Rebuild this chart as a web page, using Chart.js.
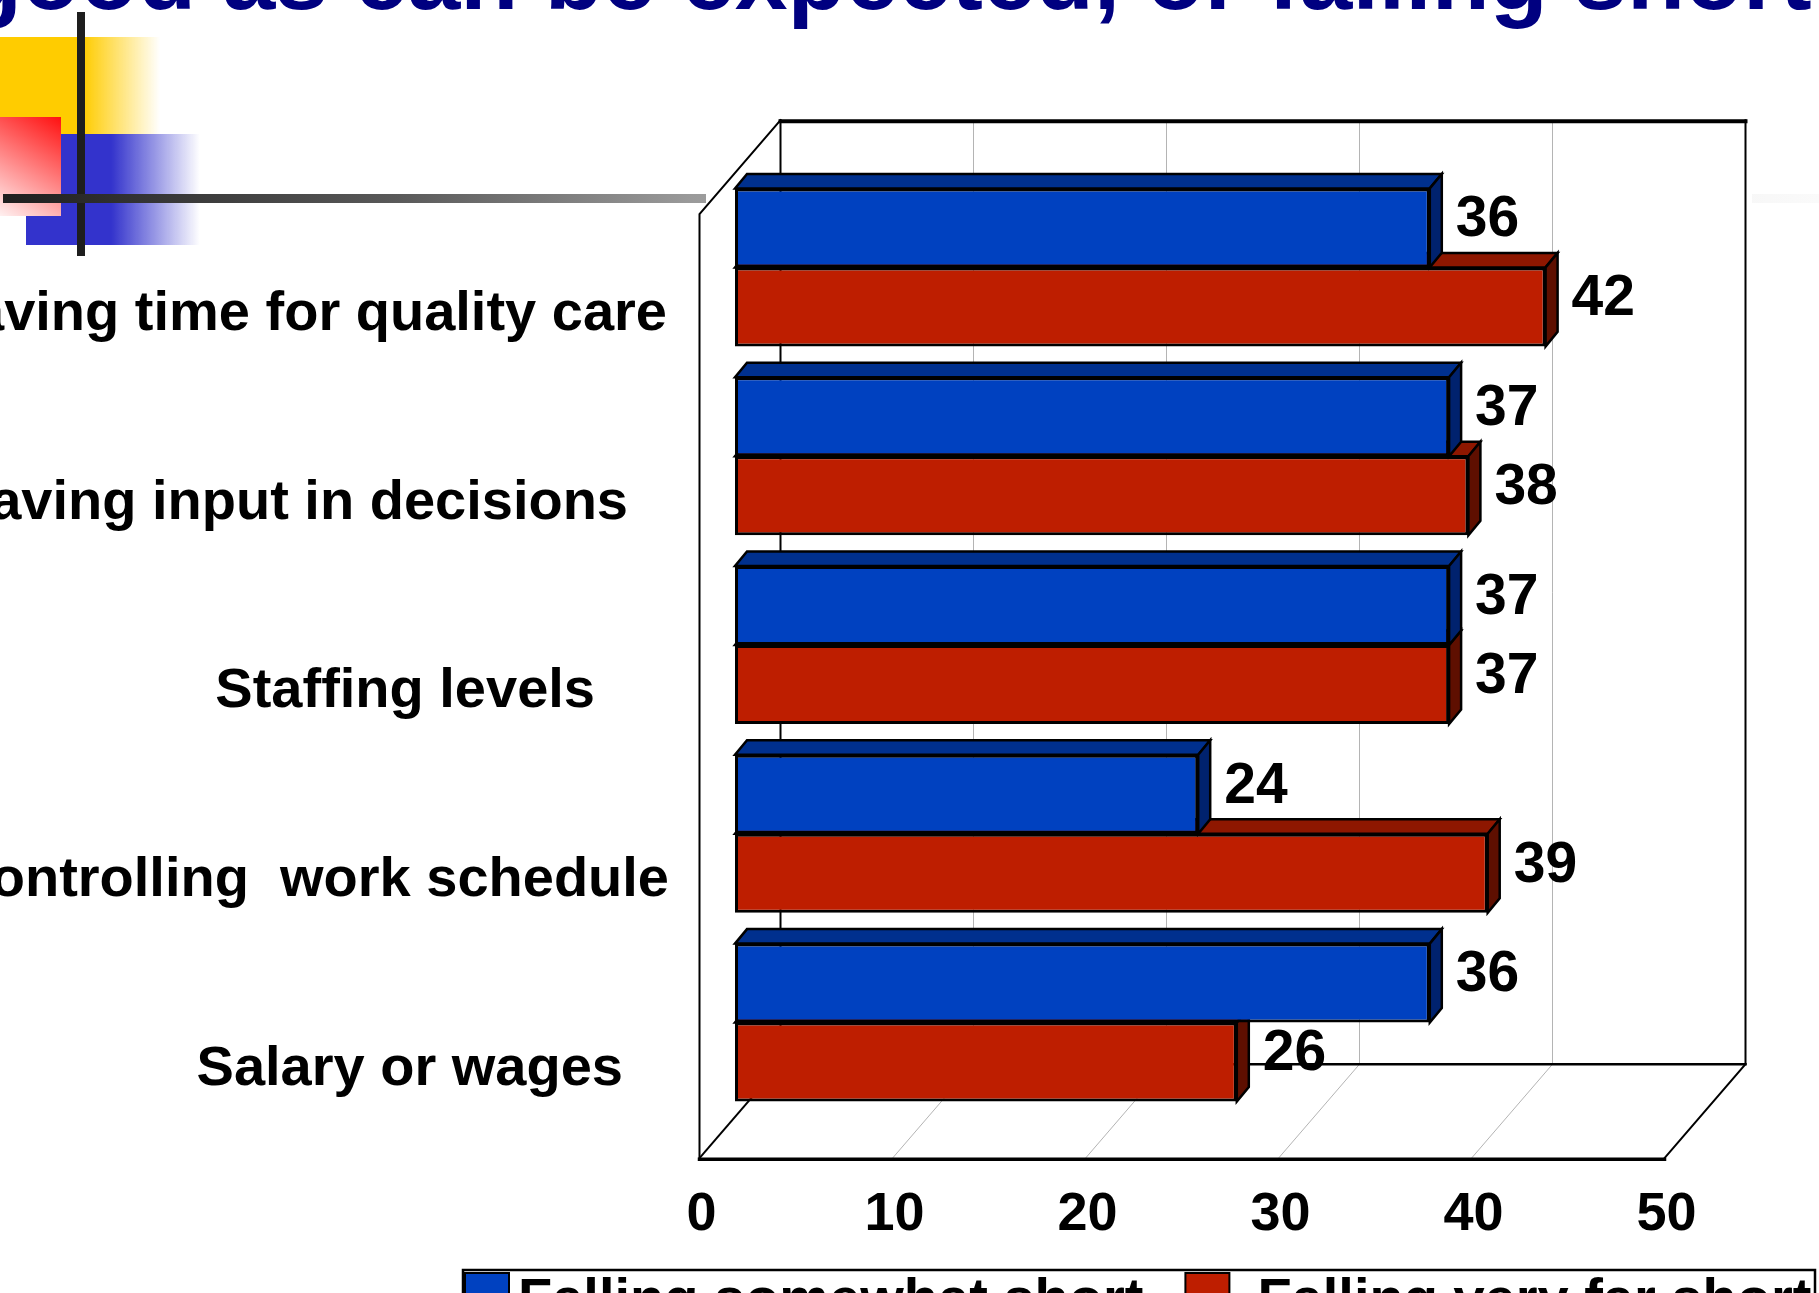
<!DOCTYPE html>
<html>
<head>
<meta charset="utf-8">
<title>Falling short</title>
<script src="https://cdn.jsdelivr.net/npm/chart.js@4/dist/chart.umd.min.js"></script>
<style>
  html, body { margin: 0; padding: 0; background: #fff; overflow: hidden; }
  #chart { display: block; }
</style>
</head>
<body>
<canvas id="chart" width="1819" height="1293"></canvas>
<script>
// chart values
const categories = ['Having time for quality care', 'Having input in decisions', 'Staffing levels', 'Controlling  work schedule', 'Salary or wages'];
const seriesNames = ['Falling somewhat short', 'Falling very far short'];
const somewhatShort = [36, 37, 37, 24, 36];
const veryFarShort = [42, 38, 37, 39, 26];
const xTicks = [0, 10, 20, 30, 40, 50];
const titleText = 'good as can be expected, or falling short';

const FONT = '"Liberation Sans", Arial, sans-serif';

// category text boxes don't line up, each has its own right edge
const labelRight = [667, 628, 595, 669, 623];

// oblique 3D offsets, relative to the plane the bar fronts sit in
const FRONT = { x: -35.5, y: 41.2 };
const BACK = { x: 45.5, y: -52.8 };
const BAR_DEPTH = { x: 12, y: -14.5 };

const colors = [
	{ front: '#0041c0', top: '#00308e', side: '#00226e' },
	{ front: '#be1e00', top: '#8e1700', side: '#5e0f00' }
];

function line(ctx, pts, width, color) {
	ctx.beginPath();
	ctx.moveTo(pts[0][0], pts[0][1]);
	for (let i = 1; i < pts.length; i++) ctx.lineTo(pts[i][0], pts[i][1]);
	ctx.lineWidth = width;
	ctx.strokeStyle = color;
	ctx.stroke();
}

function poly(ctx, pts, fill, stroke, width) {
	ctx.beginPath();
	ctx.moveTo(pts[0][0], pts[0][1]);
	for (let i = 1; i < pts.length; i++) ctx.lineTo(pts[i][0], pts[i][1]);
	ctx.closePath();
	ctx.fillStyle = fill;
	ctx.fill();
	if (stroke) {
		ctx.lineWidth = width;
		ctx.strokeStyle = stroke;
		ctx.lineJoin = 'miter';
		ctx.stroke();
	}
}

// slide decoration + title
const slidePlugin = {
	id: 'slide',
	beforeDraw(chart) {
		const ctx = chart.ctx;
		ctx.save();

		// yellow block
		let g = ctx.createLinearGradient(0, 0, 160, 0);
		g.addColorStop(0, '#ffcc00');
		g.addColorStop(0.52, '#ffcc00');
		g.addColorStop(1, 'rgba(255,204,0,0)');
		ctx.fillStyle = g;
		ctx.fillRect(0, 37, 160, 97);

		// blue block
		g = ctx.createLinearGradient(26, 0, 200, 0);
		g.addColorStop(0, '#3333cc');
		g.addColorStop(0.49, '#3333cc');
		g.addColorStop(1, 'rgba(51,51,204,0)');
		ctx.fillStyle = g;
		ctx.fillRect(26, 134, 174, 111);

		// red block, fading towards the bottom left
		g = ctx.createLinearGradient(61, 117, 0, 216);
		g.addColorStop(0, '#ff1010');
		g.addColorStop(1, '#fff0f0');
		ctx.fillStyle = g;
		ctx.fillRect(0, 117, 61, 99);

		// cross lines
		ctx.fillStyle = '#1e1e1e';
		ctx.fillRect(77, 12, 8, 244);
		g = ctx.createLinearGradient(0, 0, 1819, 0);
		g.addColorStop(0, '#1e1e1e');
		g.addColorStop(0.22, '#5a5a5a');
		g.addColorStop(0.38, '#9a9a9a');
		g.addColorStop(0.75, '#e8e8e8');
		g.addColorStop(1, '#fafafa');
		ctx.fillStyle = g;
		ctx.fillRect(3, 194, 1816, 9);

		// chart object background
		ctx.fillStyle = '#fff';
		ctx.fillRect(706, 100, 1046, 1150);

		// title
		ctx.fillStyle = '#000080';
		ctx.font = 'bold 95px ' + FONT;
		ctx.textAlign = 'left';
		ctx.textBaseline = 'alphabetic';
		ctx.fillText(titleText, -36, 9);
		ctx.restore();
	}
};

// walls, floor and gridlines of the 3D box
const boxPlugin = {
	id: 'box3d',
	beforeDatasetsDraw(chart) {
		const ctx = chart.ctx;
		const a = chart.chartArea;
		const xs = chart.scales.x;
		const fl = a.left + FRONT.x, fr = a.right + FRONT.x, ft = a.top + FRONT.y, fb = a.bottom + FRONT.y;
		const bl = a.left + BACK.x, br = a.right + BACK.x, bt = a.top + BACK.y, bb = a.bottom + BACK.y;
		ctx.save();

		poly(ctx, [[bl, bt], [br, bt], [br, bb], [bl, bb]], '#fff');
		poly(ctx, [[fl, ft], [bl, bt], [bl, bb], [fl, fb]], '#fff');
		poly(ctx, [[fl, fb], [bl, bb], [br, bb], [fr, fb]], '#fff');

		xTicks.forEach(function(v) {
			if (v === xTicks[0] || v === xTicks[xTicks.length - 1]) return;
			const px = xs.getPixelForValue(v);
			line(ctx, [[px + BACK.x, bt], [px + BACK.x, bb]], 1, '#b4b4b4');
			line(ctx, [[px + BACK.x, bb], [px + FRONT.x, fb]], 1, '#b4b4b4');
		});

		ctx.lineCap = 'square';
		line(ctx, [[fl, fb], [fl, ft], [bl, bt]], 2, '#000');
		line(ctx, [[bl, bt], [bl, bb]], 2, '#000');
		line(ctx, [[fl, fb], [bl, bb]], 2, '#000');
		line(ctx, [[br, bt], [br, bb], [fr, fb]], 2, '#000');
		line(ctx, [[bl, bb], [br, bb]], 2.5, '#000');
		line(ctx, [[bl, bt + 1], [br, bt + 1]], 4, '#000');
		line(ctx, [[fl, fb + 1], [fr, fb + 1]], 3.5, '#000');
		ctx.restore();
	},
	// top and side faces of the bars, drawn before the fronts
	beforeDatasetDraw(chart, args) {
		const ctx = chart.ctx;
		const c = colors[args.index];
		ctx.save();
		args.meta.data.forEach(function(bar) {
			const p = bar.getProps(['x', 'y', 'base', 'height'], true);
			const top = p.y - p.height / 2, bottom = p.y + p.height / 2;
			const dx = BAR_DEPTH.x, dy = BAR_DEPTH.y;
			poly(ctx, [[p.base, top], [p.x, top], [p.x + dx, top + dy], [p.base + dx, top + dy]], c.top, '#000', 2.5);
			poly(ctx, [[p.x, top], [p.x + dx, top + dy], [p.x + dx, bottom + dy], [p.x, bottom]], c.side, '#000', 2.5);
		});
		ctx.restore();
	},
	afterDatasetsDraw(chart) {
		const ctx = chart.ctx;
		const a = chart.chartArea;
		const xs = chart.scales.x, ys = chart.scales.y;
		ctx.save();
		ctx.fillStyle = '#000';

		// value labels
		ctx.font = 'bold 57px ' + FONT;
		ctx.textAlign = 'left';
		ctx.textBaseline = 'middle';
		chart.data.datasets.forEach(function(ds, i) {
			chart.getDatasetMeta(i).data.forEach(function(bar, j) {
				ctx.fillText(String(ds.data[j]), bar.x + 26, bar.y - 7.5);
			});
		});

		// value axis ticks along the front edge of the floor
		ctx.font = 'bold 54px ' + FONT;
		ctx.textAlign = 'center';
		xTicks.forEach(function(v) {
			ctx.fillText(String(v), xs.getPixelForValue(v) + FRONT.x + 2, a.bottom + FRONT.y + 57);
		});

		// category labels
		ctx.font = 'bold 56px ' + FONT;
		ctx.textAlign = 'right';
		categories.forEach(function(label, i) {
			ctx.fillText(label, labelRight[i], ys.getPixelForValue(i) + 47);
		});

		// legend box below the chart
		const lx = 463, ly = 1270;
		const gaps = [9, 28];
		ctx.lineWidth = 2.5;
		ctx.strokeStyle = '#000';
		ctx.fillStyle = '#fff';
		ctx.fillRect(lx, ly, 1815 - lx, 60);
		ctx.strokeRect(lx, ly, 1815 - lx, 60);
		ctx.textAlign = 'left';
		ctx.textBaseline = 'alphabetic';
		let x = lx + 2;
		chart.data.datasets.forEach(function(ds, i) {
			ctx.fillStyle = colors[i].front;
			ctx.fillRect(x, ly + 3, 44, 46);
			ctx.lineWidth = 2;
			ctx.strokeRect(x, ly + 3, 44, 46);
			x += 44 + gaps[i];
			ctx.fillStyle = '#000';
			ctx.fillText(ds.label, x, ly + 47);
			x += ctx.measureText(ds.label).width + 42;
		});
		ctx.restore();
	}
};

new Chart(document.getElementById('chart'), {
	type: 'bar',
	data: {
		labels: categories,
		datasets: [
			{ label: seriesNames[0], data: somewhatShort, backgroundColor: colors[0].front, borderColor: '#000', borderWidth: 3, borderSkipped: false },
			{ label: seriesNames[1], data: veryFarShort, backgroundColor: colors[1].front, borderColor: '#000', borderWidth: 3, borderSkipped: false }
		]
	},
	options: {
		indexAxis: 'y',
		responsive: false,
		animation: false,
		devicePixelRatio: 1,
		layout: { padding: { left: 735, right: 119, top: 173, bottom: 176 } },
		datasets: { bar: { categoryPercentage: 0.837, barPercentage: 1 } },
		scales: {
			x: { type: 'linear', min: 0, max: 50, display: false },
			y: { type: 'category', display: false }
		},
		plugins: {
			legend: { display: false },
			tooltip: { enabled: false }
		}
	},
	plugins: [slidePlugin, boxPlugin]
});
</script>
</body>
</html>
